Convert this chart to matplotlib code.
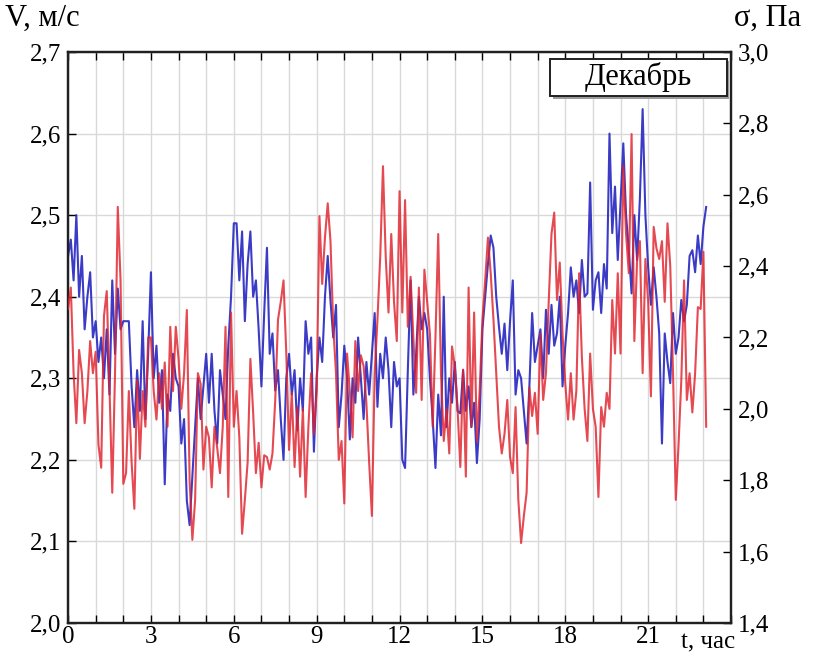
import numpy as np
import matplotlib
matplotlib.use("Agg")
import matplotlib.pyplot as plt
from matplotlib.ticker import FixedLocator, FuncFormatter
from matplotlib.patches import Rectangle

plt.rcParams["font.family"] = ["Liberation Serif", "DejaVu Serif"]

# Sampling step of the record, hours
dt = 0.1

# Wind speed V, m/s (one row per hour, 6-minute steps)
speed = [
    2.45, 2.47, 2.42, 2.50, 2.40, 2.45, 2.36, 2.40, 2.43, 2.35,
    2.37, 2.32, 2.35, 2.30, 2.36, 2.28, 2.42, 2.33, 2.41, 2.36,
    2.37, 2.37, 2.37, 2.29, 2.24, 2.31, 2.26, 2.37, 2.25, 2.33,
    2.43, 2.30, 2.34, 2.27, 2.31, 2.17, 2.28, 2.26, 2.33, 2.30,
    2.29, 2.22, 2.25, 2.15, 2.12, 2.18, 2.24, 2.30, 2.25, 2.29,
    2.33, 2.27, 2.33, 2.26, 2.22, 2.31, 2.28, 2.25, 2.34, 2.40,
    2.49, 2.49, 2.42, 2.48, 2.37, 2.44, 2.48, 2.40, 2.42, 2.36,
    2.29, 2.38, 2.46, 2.33, 2.355, 2.285, 2.31, 2.25, 2.20, 2.30,
    2.33, 2.28, 2.31, 2.236, 2.30, 2.26, 2.37, 2.33, 2.35, 2.21,
    2.30, 2.35, 2.32, 2.40, 2.45, 2.395, 2.35, 2.39, 2.24, 2.28,
    2.34, 2.30, 2.225, 2.30, 2.27, 2.35, 2.30, 2.25, 2.32, 2.28,
    2.33, 2.38, 2.265, 2.33, 2.30, 2.35, 2.31, 2.24, 2.32, 2.29,
    2.30, 2.20, 2.19, 2.31, 2.42, 2.28, 2.33, 2.40, 2.36, 2.38,
    2.36, 2.30, 2.25, 2.19, 2.28, 2.23, 2.40, 2.24, 2.30, 2.27,
    2.32, 2.26, 2.257, 2.31, 2.26, 2.29, 2.24, 2.27, 2.196, 2.25,
    2.36, 2.40, 2.44, 2.475, 2.46, 2.40, 2.363, 2.33, 2.367, 2.31,
    2.37, 2.42, 2.28, 2.31, 2.30, 2.26, 2.22, 2.29, 2.38, 2.32,
    2.34, 2.36, 2.30, 2.384, 2.33, 2.39, 2.34, 2.355, 2.40, 2.29,
    2.34, 2.38, 2.436, 2.40, 2.42, 2.38, 2.445, 2.40, 2.404, 2.54,
    2.384, 2.42, 2.43, 2.38, 2.44, 2.41, 2.60, 2.478, 2.535, 2.445,
    2.515, 2.588, 2.50, 2.457, 2.404, 2.50, 2.445, 2.52, 2.63, 2.50,
    2.436, 2.39, 2.436, 2.40, 2.355, 2.22, 2.355, 2.32, 2.294, 2.38,
    2.33, 2.35, 2.396, 2.37, 2.39, 2.45, 2.457, 2.43, 2.475, 2.44,
    2.486, 2.51,
]

# Tangential stress sigma, Pa
stress = [
    2.28, 2.34, 2.10, 1.96, 2.165, 2.10, 1.96, 2.05, 2.19, 2.10,
    2.16, 1.90, 1.835, 2.26, 2.33, 2.06, 1.765, 2.10, 2.566, 2.36,
    1.79, 1.82, 2.05, 1.85, 1.72, 2.08, 1.86, 2.05, 1.95, 2.20,
    2.20, 2.05, 1.97, 2.10, 2.00, 2.13, 1.95, 2.23, 2.05, 2.23,
    2.14, 2.00, 2.10, 2.277, 1.80, 1.633, 1.745, 2.10, 2.07, 1.83,
    1.95, 1.92, 1.78, 1.95, 1.89, 1.82, 1.95, 2.23, 1.753, 2.27,
    1.95, 2.05, 1.92, 1.65, 1.745, 1.85, 2.14, 1.99, 1.82, 1.905,
    1.78, 1.87, 1.865, 1.83, 1.875, 2.025, 2.25, 2.30, 2.36, 2.155,
    1.885, 2.045, 1.837, 2.005, 1.81, 2.00, 1.753, 1.95, 2.10, 1.93,
    2.05, 2.54, 2.35, 2.48, 2.576, 2.47, 2.23, 2.10, 1.857, 1.91,
    1.735, 2.155, 2.05, 1.92, 2.19, 2.05, 2.15, 2.12, 2.016, 1.85,
    1.70, 2.10, 2.25, 2.425, 2.68, 2.425, 2.27, 2.49, 2.30, 2.19,
    2.61, 2.27, 2.585, 2.23, 2.37, 2.20, 2.045, 2.34, 2.025, 2.39,
    2.30, 2.21, 1.95, 2.20, 2.49, 2.10, 1.91, 2.00, 1.875, 2.175,
    2.12, 2.00, 1.837, 2.11, 1.81, 2.34, 1.95, 2.27, 1.91, 2.05,
    2.25, 2.36, 2.48, 2.38, 2.25, 2.10, 1.95, 1.875, 1.93, 2.025,
    1.865, 1.82, 2.005, 1.745, 1.624, 1.70, 1.765, 2.06, 1.98, 2.045,
    1.93, 2.21, 2.025, 2.10, 2.30, 2.49, 2.55, 2.305, 2.41, 2.21,
    2.07, 1.97, 2.10, 1.97, 2.05, 2.38, 2.145, 2.00, 1.91, 2.155,
    2.00, 1.95, 1.753, 2.005, 1.95, 2.045, 2.00, 2.305, 2.155, 2.38,
    2.155, 2.68, 2.49, 2.38, 2.77, 2.19, 2.42, 2.47, 2.10, 2.42,
    2.30, 2.035, 2.51, 2.45, 2.42, 2.47, 2.30, 2.52, 2.40, 2.10,
    1.745, 1.90, 2.08, 2.36, 2.025, 2.10, 1.99, 2.10, 2.285, 2.28,
    2.44, 1.95,
]

x_major = [0, 3, 6, 9, 12, 15, 18, 21]
v_ticks = [2.0, 2.1, 2.2, 2.3, 2.4, 2.5, 2.6, 2.7]
s_ticks = [1.4, 1.6, 1.8, 2.0, 2.2, 2.4, 2.6, 2.8, 3.0]
month = "Декабрь"

t = np.arange(len(speed)) * dt

fig = plt.figure(figsize=(8.2, 6.54), dpi=100)
ax = fig.add_axes([0.083, 0.0474, 0.8085, 0.8731])
ax2 = ax.twinx()

comma = FuncFormatter(lambda v, p: f"{v:.1f}".replace(".", ","))

ax.plot(t, speed, color="#2626c0", lw=1.5, alpha=0.9, zorder=3)
ax2.plot(t, stress, color="#e0222c", lw=1.5, alpha=0.82, zorder=3)

ax.set_xlim(0, 24)
ax.set_ylim(2.0, 2.7)
ax2.set_ylim(1.4, 3.0)

hours = list(range(0, 25))
ax.xaxis.set_major_locator(FixedLocator(hours))
ax.set_xticklabels([str(h) if h in x_major else "" for h in hours])
ax.yaxis.set_major_locator(FixedLocator(v_ticks))
ax.yaxis.set_major_formatter(comma)
ax2.yaxis.set_major_locator(FixedLocator(s_ticks))
ax2.yaxis.set_major_formatter(comma)

ax.grid(True, color="#d9d9d9", lw=1.0, zorder=0)
ax.set_axisbelow(True)

ax.tick_params(axis="x", direction="in", length=6, width=1.0, top=True,
               labelsize=18, pad=2)
ax.tick_params(axis="y", direction="in", length=6, width=1.0, labelsize=18, pad=5)
ax2.tick_params(axis="y", direction="in", length=6, width=1.0, labelsize=18, pad=5)

for a in (ax, ax2):
    for s in a.spines.values():
        s.set_linewidth(1.6)
        s.set_color("#202020")

fig.text(0.006, 0.972, "V, м/с", fontsize=22, ha="left", va="center")
fig.text(0.895, 0.972, "σ, Па", fontsize=22, ha="left", va="center")
fig.text(0.864, 0.018, "t, час", fontsize=18, ha="center", va="center")

# Month label in a framed box with a drop shadow
box_x0, box_y0, box_w, box_h = 0.671, 0.853, 0.215, 0.057
fig.patches.append(Rectangle((box_x0 + 0.003, box_y0 - 0.004), box_w, box_h,
                             transform=fig.transFigure, facecolor="#9a9a9a",
                             edgecolor="none", zorder=5))
fig.patches.append(Rectangle((box_x0, box_y0), box_w, box_h,
                             transform=fig.transFigure, facecolor="white",
                             edgecolor="#202020", lw=1.4, zorder=6))
fig.text(box_x0 + box_w / 2, box_y0 + box_h / 2, month, fontsize=22,
         ha="center", va="center", zorder=7)

fig.savefig("out.png", dpi=100)
